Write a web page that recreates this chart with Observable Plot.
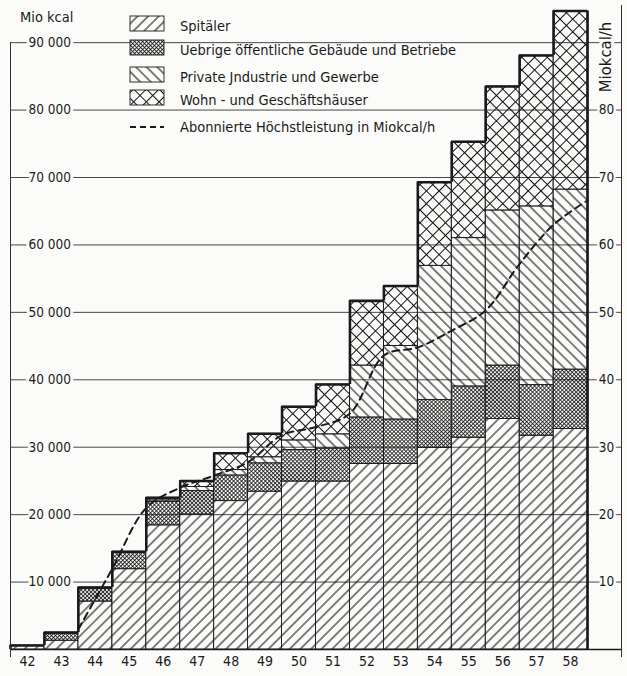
<!DOCTYPE html>
<html><head><meta charset="utf-8">
<script src="https://cdn.jsdelivr.net/npm/d3@7"></script>
<script src="https://cdn.jsdelivr.net/npm/@observablehq/plot@0.6"></script>
<style>
html,body{margin:0;padding:0;background:#fbfbf9;}
#chart{width:627px;height:676px;position:relative;}
</style></head><body><div id="chart"></div>
<script>
// ---- data (Mio kcal per year, stacked components) ----
const years      = [42,43,44,45,46,47,48,49,50,51,52,53,54,55,56,57,58];
const spitaeler  = [600,1300,7100,11900,18400,20000,22000,23400,24900,24900,27500,27500,29900,31400,34200,31700,32700];
const uebrige    = [0,1000,1900,2500,3500,3500,3800,4200,4700,4900,6900,6600,7100,7600,7900,7500,8800];
const privat     = [0,0,0,0,200,600,800,900,1400,2100,7700,10900,19900,22000,23000,26500,26700];
const wohn       = [0,200,200,100,400,900,2500,3500,5000,7400,9600,8900,12400,14300,18400,22400,26500];
const seriesNames = ["Spitäler","Uebrige öffentliche Gebäude und Betriebe","Private Jndustrie und Gewerbe","Wohn - und Geschäftshäuser"];
const lineName = "Abonnierte Höchstleistung in Miokcal/h";
// abonnierte Höchstleistung (Mio kcal/h), end of each year
const capYears  = [43,44,45,46,47,48,49,50,51,52,53,54,55,56,57,58];
const capValues = [3.0,12.0,21.0,24.0,25.8,27.8,31.8,33.0,35.0,43.6,44.8,47.3,50.3,57.2,63.0,66.6];
const leftTicks  = [10000,20000,30000,40000,50000,60000,70000,80000,90000];
const rightTicks = [10,20,30,40,50,60,70,80];

const FONT = '"DejaVu Sans Condensed","DejaVu Sans",sans-serif';
const BG = "#fbfbf9";
const INK = "#1a1a1a";
const xDomain = [41.5, 59.5];
const yMax = 96250;

const series = [spitaeler, uebrige, privat, wohn];
const rows = years.map((yr, i) => ({year: yr, vals: series.map(s => s[i])}));
const stacked = [];
rows.forEach(r => {
  let acc = 0;
  r.vals.forEach((v, k) => { stacked.push({year: r.year, k, y1: acc, y2: acc + v}); acc += v; });
  r.total = acc;
});
const edges = [{x: rows[0].year - 0.5, y1: 0, y2: rows[0].total}]
  .concat(d3.pairs(rows).map(([a, b]) => ({x: a.year + 0.5, y1: a.total, y2: b.total})))
  .concat([{x: rows[rows.length - 1].year + 0.5, y1: 0, y2: rows[rows.length - 1].total}]);
const capData = capYears.map((y, i) => ({x: y + 0.5, v: capValues[i] * 1000}));
const fmt = d => d3.format(",")(d).replace(",", " ");

const svg = Plot.plot({
  width: 627, height: 676,
  marginLeft: 10, marginRight: 6, marginTop: 0, marginBottom: 27,
  style: {background: "transparent", fontFamily: FONT, color: INK, overflow: "visible"},
  x: {domain: xDomain, axis: null},
  y: {domain: [0, yMax], axis: null},
  marks: [
    Plot.ruleY(leftTicks, {stroke: "#333", strokeWidth: 0.9}),
    ...[0,1,2,3].map(k => Plot.rect(stacked.filter(d => d.k === k), {
      x1: d => d.year - 0.5, x2: d => d.year + 0.5, y1: "y1", y2: "y2",
      fill: `url(#pat${k})`, stroke: INK, strokeWidth: 0.8
    })),
    Plot.ruleY(rows, {y: "total", x1: d => d.year - 0.5, x2: d => d.year + 0.5, stroke: INK, strokeWidth: 2.6}),
    Plot.ruleX(edges, {x: "x", y1: "y1", y2: "y2", stroke: INK, strokeWidth: 2.6}),
    Plot.ruleY([0], {stroke: INK, strokeWidth: 1.4}),
    Plot.ruleX([xDomain[0]], {y1: -1200, y2: 90000, stroke: "#333", strokeWidth: 1}),
    Plot.ruleX([xDomain[1]], {y1: -1200, y2: 95500, stroke: "#333", strokeWidth: 1}),
    Plot.line(capData, {x: "x", y: "v", curve: "catmull-rom", stroke: INK, strokeWidth: 2, strokeDasharray: "7,5"}),
    Plot.text(leftTicks, {y: d => d, text: fmt, frameAnchor: "left", dx: 18, textAnchor: "start",
      fontSize: 13.5, fontFamily: FONT, fill: INK, stroke: BG, strokeWidth: 6}),
    Plot.text(rightTicks, {y: d => d * 1000, text: d => String(d), frameAnchor: "right", dx: -15, textAnchor: "middle",
      fontSize: 13.5, fontFamily: FONT, fill: INK, stroke: BG, strokeWidth: 5}),
    Plot.text(years, {x: d => d, text: d => String(d), frameAnchor: "bottom", dy: 16,
      fontSize: 14, fontFamily: FONT, fill: INK})
  ]
});

// ---- patterns ----
const root = d3.select(svg);
const defs = root.insert("defs", ":first-child");
function pattern(id, angle, spacing, sw, cross) {
  const p = defs.append("pattern").attr("id", id).attr("patternUnits", "userSpaceOnUse")
    .attr("width", spacing).attr("height", spacing).attr("patternTransform", `rotate(${angle})`);
  p.append("line").attr("x1", spacing / 2).attr("y1", 0).attr("x2", spacing / 2).attr("y2", spacing)
    .attr("stroke", "#111").attr("stroke-width", sw);
  if (cross) p.append("line").attr("x1", 0).attr("y1", spacing / 2).attr("x2", spacing).attr("y2", spacing / 2)
    .attr("stroke", "#111").attr("stroke-width", sw);
}
pattern("pat0", 45, 7.5, 1.05, false);
pattern("pat1", 45, 2.8, 0.8, true);
pattern("pat2", -45, 7.5, 1.05, false);
pattern("pat3", 45, 9, 1.05, true);

// ---- titles ----
root.append("text").attr("x", 20).attr("y", 22).attr("text-anchor", "start").text("Mio kcal")
  .attr("font-family", FONT).attr("font-size", 14.5).attr("fill", INK);
root.append("text").attr("transform", "translate(611,57) rotate(-90)").attr("text-anchor", "middle")
  .text("Miokcal/h").attr("font-family", FONT).attr("font-size", 16.5).attr("fill", INK)
  .attr("stroke", BG).attr("stroke-width", 6).attr("paint-order", "stroke");

// ---- legend ----
const lg = root.append("g").attr("text-anchor", "start");
const swY = [16, 40, 67, 90];
seriesNames.forEach((name, k) => {
  lg.append("rect").attr("x", 130).attr("y", swY[k]).attr("width", 34).attr("height", 15)
    .attr("fill", BG).attr("stroke", "none");
  lg.append("rect").attr("x", 130).attr("y", swY[k]).attr("width", 34).attr("height", 15)
    .attr("fill", `url(#pat${k})`).attr("stroke", INK).attr("stroke-width", 0.9);
  lg.append("text").attr("x", 180).attr("y", swY[k] + 15).attr("text-anchor", "start").text(name)
    .attr("font-family", FONT).attr("font-size", 14.5).attr("fill", INK);
});
lg.append("line").attr("x1", 130).attr("x2", 164).attr("y1", 127).attr("y2", 127)
  .attr("stroke", INK).attr("stroke-width", 2).attr("stroke-dasharray", "6,4");
lg.append("text").attr("x", 180).attr("y", 132).attr("text-anchor", "start").text(lineName)
  .attr("font-family", FONT).attr("font-size", 14.5).attr("fill", INK);

document.getElementById("chart").appendChild(svg);
</script></body></html>
